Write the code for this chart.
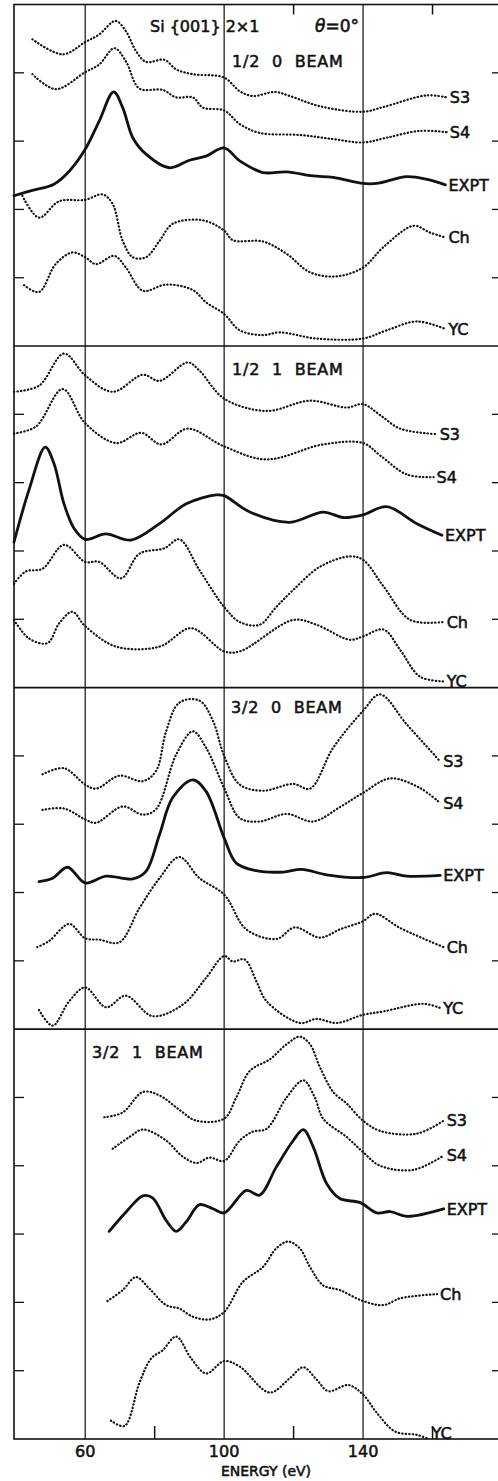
<!DOCTYPE html>
<html>
<head>
<meta charset="utf-8">
<script src="https://cdn.jsdelivr.net/npm/d3@7"></script>
<style>
  body { margin: 0; background: #fff; }
  text { font-family: 'DejaVu Sans', sans-serif; fill: #111; stroke: #111; stroke-width: 0.55px; }
</style>
</head>
<body>
<div id="chart"></div>
<script>
// panels, top to bottom
const beams = ['1/2  0  BEAM', '1/2  1  BEAM', '3/2  0  BEAM', '3/2  1  BEAM']
const models = ['S3', 'S4', 'EXPT', 'Ch', 'YC']
const panelUnits = [5, 5, 5, 6]
const gridEnergies = [60, 100, 140]
const xTickLabels = ['60', '100', '140']
const topTicks = [120, 160]
const bottomTicks = [80, 120, 160]

// [energy eV, intensity in tick divisions above panel floor]
const b1S3 = [[44.8,4.49],[53.5,4.27],[60,4.45],[64,4.56],[68.7,4.76],[71.7,4.61],[74.6,4.32],[77.5,4.16],[82.8,4.19],[86.2,4.05],[91,3.98],[100,3.93],[104.5,3.73],[108.3,3.66],[114.6,3.72],[118.9,3.66],[127.6,3.51],[140,3.43],[145.9,3.5],[158.4,3.67],[164.1,3.64]]
const b1S4 = [[44.8,3.98],[51.5,3.76],[60,4.01],[64,4.12],[68.4,4.36],[71.7,4.17],[75.6,3.77],[82.3,3.75],[86.2,3.64],[91,3.64],[93.9,3.49],[100,3.45],[104.5,3.25],[110.2,3.12],[121.8,3.09],[131.4,3.03],[140,2.98],[146.8,3.05],[156.4,3.15],[164.1,3.13]]
const b1EXPT = [[39.5,2.2],[44.8,2.28],[51,2.37],[55.4,2.56],[60,2.88],[64,3.29],[68.2,3.72],[70.8,3.49],[73.7,3.05],[77.5,2.81],[84.3,2.61],[90,2.72],[94.8,2.78],[100,2.9],[104.5,2.71],[111.2,2.54],[118,2.55],[125.6,2.49],[131.4,2.47],[140,2.38],[143.9,2.38],[152.6,2.48],[158.4,2.44],[163.7,2.36]]
const b1Ch = [[41.9,2.2],[46.7,1.88],[52.5,2.12],[60,2.14],[65,2.22],[67.9,2.08],[70.8,1.54],[73.7,1.3],[77.5,1.3],[81.4,1.54],[85.2,1.79],[93.9,1.84],[100,1.69],[102.5,1.55],[111.2,1.53],[118,1.35],[124.7,1.08],[132.4,1.02],[140,1.15],[145.9,1.45],[154.5,1.76],[159.3,1.66],[163.7,1.59]]
const b1YC = [[42.4,0.89],[46.7,0.79],[51.5,1.2],[56.3,1.37],[60,1.3],[63.1,1.2],[68.4,1.32],[71.7,1.15],[76.6,0.81],[83.3,0.9],[91,0.82],[94.8,0.64],[100,0.47],[104.5,0.23],[111.2,0.16],[116,0.2],[126.6,0.11],[140,0.11],[146.8,0.23],[155.5,0.36],[163.7,0.25]]

const b2S3 = [[39.5,4.33],[46.7,4.42],[53.9,4.89],[60,4.57],[67.9,4.33],[76.6,4.58],[81.4,4.49],[89.5,4.76],[92.9,4.64],[100,4.23],[112.2,4.05],[124.7,4.2],[135.3,4.1],[140,4.15],[144.9,3.99],[150.7,3.79],[161.2,3.71]]
const b2S4 = [[39.5,3.72],[45.8,3.82],[53.5,4.37],[60,3.87],[68.9,3.58],[76.1,3.73],[81.9,3.56],[89.5,3.79],[100,3.53],[112.2,3.34],[128.5,3.56],[140,3.58],[144.9,3.4],[152.6,3.12],[160.3,3.08]]
const b2EXPT = [[39.5,2.13],[43.8,2.89],[48.5,3.52],[51,3.28],[53.9,2.69],[56.8,2.33],[60,2.17],[65.9,2.25],[73.2,2.16],[81.4,2.4],[89.1,2.69],[97.7,2.82],[100,2.81],[107.4,2.57],[118.9,2.42],[128.5,2.57],[134.3,2.49],[140,2.53],[146.8,2.65],[155.5,2.4],[162.7,2.23]]
const b2Ch = [[39.5,1.52],[42.9,1.7],[47.7,1.74],[53.9,2.09],[60,1.84],[64,1.84],[70.3,1.6],[75.6,1.96],[82.8,2.04],[87.1,2.17],[92.9,1.72],[100,1.18],[104.5,0.96],[110.2,0.92],[115,1.18],[119.9,1.43],[127.6,1.77],[136.2,1.92],[140,1.87],[145.9,1.48],[153.6,0.99],[163.2,0.96]]
const b2YC = [[39.5,0.99],[43.8,0.72],[49.1,0.65],[52.5,0.94],[56.3,1.11],[60,0.9],[68.9,0.6],[81.4,0.6],[90.5,0.87],[100,0.53],[104.5,0.53],[119.9,0.99],[126.6,0.92],[136.2,0.7],[140,0.75],[145.9,0.85],[150.7,0.55],[156.4,0.16],[163.2,0.09]]

const b3S3 = [[47.7,3.73],[53.9,3.82],[60,3.58],[63.1,3.52],[69.8,3.71],[76.6,3.63],[80.4,3.78],[83.3,4.36],[87.1,4.78],[92.9,4.81],[96.8,4.51],[100,4.0],[104.5,3.58],[111.2,3.49],[119.9,3.59],[124.7,3.52],[131.4,4.12],[140,4.66],[144.9,4.9],[152.6,4.46],[162.2,3.92]]
const b3S4 = [[47.7,3.21],[53.9,3.23],[60,3.07],[63.1,3.02],[70.8,3.26],[76.6,3.14],[80.4,3.22],[86.2,4.02],[91,4.36],[94.8,4.12],[100,3.53],[104.5,3.09],[110.2,3.04],[118,3.15],[125.6,3.04],[133.3,3.25],[140,3.46],[147.8,3.67],[156.4,3.53],[162.2,3.31]]
const b3EXPT = [[46.7,2.16],[50.6,2.21],[54.9,2.37],[60,2.14],[66,2.24],[73.7,2.2],[77.5,2.31],[81.4,2.85],[85.2,3.39],[91,3.65],[94.8,3.48],[100,2.8],[103.5,2.43],[109.3,2.32],[117,2.3],[122.3,2.34],[129.5,2.26],[140,2.22],[146.8,2.29],[152.6,2.24],[162.2,2.25]]
const b3Ch = [[46.2,1.2],[49.6,1.29],[55.4,1.54],[60,1.33],[64,1.31],[69.8,1.27],[75.6,1.77],[81.4,2.21],[87.1,2.52],[92.9,2.21],[100,1.97],[106.4,1.46],[115.1,1.32],[120.3,1.49],[127.6,1.34],[133.3,1.46],[140,1.58],[143.4,1.69],[150.7,1.48],[163.2,1.2]]
const b3YC = [[46.7,0.28],[50.6,0.05],[55.4,0.41],[60,0.61],[66,0.32],[71.7,0.49],[79.4,0.19],[88.1,0.36],[94.8,0.75],[100,1.07],[102.5,0.99],[105.9,1.02],[109.3,0.7],[112.2,0.41],[121.8,0.09],[126.6,0.15],[132.4,0.09],[140,0.21],[145.9,0.26],[157.4,0.37],[162.2,0.31]]

const b4S3 = [[65.5,4.71],[70.8,4.78],[76.6,5.08],[81.4,5.03],[87.1,4.82],[92,4.66],[100,4.69],[103.5,5.0],[107.4,5.39],[113.2,5.56],[118,5.78],[121.8,5.89],[124.7,5.78],[127.6,5.44],[131.4,5.08],[135.3,4.91],[140,4.66],[144.9,4.51],[155.5,4.47],[163.2,4.66]]
const b4S4 = [[67.9,4.25],[72.7,4.42],[76.6,4.53],[83.3,4.37],[87.7,4.15],[92,4.04],[95.8,4.12],[100,4.07],[104.5,4.37],[108.3,4.5],[112.2,4.54],[118,5.0],[122.8,5.25],[126.1,5.0],[128.5,4.69],[135.3,4.42],[140,4.2],[144.9,4.0],[154.5,3.94],[163.2,4.15]]
const b4EXPT = [[66.9,3.04],[71.7,3.32],[76.6,3.56],[79.4,3.53],[83.3,3.2],[86.2,3.04],[89.1,3.18],[92.9,3.43],[96.8,3.37],[100,3.31],[106.4,3.64],[110.2,3.57],[115,3.98],[119.9,4.37],[122.8,4.53],[125.7,4.27],[129.5,3.74],[133.3,3.52],[139.2,3.46],[144,3.31],[147.8,3.33],[152.6,3.26],[163.2,3.37]]
const b4Ch = [[66.4,2.02],[70.8,2.18],[74.6,2.37],[78.5,2.2],[83.3,1.96],[87.1,1.91],[91,1.79],[95.8,1.75],[100,1.86],[105.4,2.3],[111.2,2.52],[115,2.79],[118.4,2.89],[121.8,2.79],[124.7,2.52],[128.5,2.25],[133.3,2.18],[140,2.02],[145.9,1.96],[150.7,2.06],[161.3,2.12]]
const b4YC = [[67.4,0.27],[71.3,0.19],[75.6,0.82],[79,1.18],[82.3,1.3],[86.2,1.5],[90.5,1.18],[94.8,0.96],[100,1.14],[104.5,1.06],[113.1,0.68],[118.9,0.89],[122.8,1.05],[126.6,0.87],[130,0.7],[135.8,0.79],[140,0.65],[144,0.38],[149.2,0.11],[155.5,0.06],[158.9,0.0]]

const curveSets = [
  [b1S3, b1S4, b1EXPT, b1Ch, b1YC],
  [b2S3, b2S4, b2EXPT, b2Ch, b2YC],
  [b3S3, b3S4, b3EXPT, b3Ch, b3YC],
  [b4S3, b4S4, b4EXPT, b4Ch, b4YC]
]

const width = 498
const height = 1481
const frame = { left: 14, right: 502, top: 4.5, bottom: 1439 }

const svg = d3
  .select('#chart')
  .append('svg')
  .attr('width', width)
  .attr('height', height)

const totalUnits = d3.sum(panelUnits)
const xPositionScale = d3
  .scaleLinear()
  .domain([39.5, 180])
  .range([frame.left, frame.right])
const yPositionScale = d3
  .scaleLinear()
  .domain([0, totalUnits])
  .range([frame.bottom, frame.top])

// base of each panel in units counted from the chart floor
const panelBase = panelUnits.map((u, i) => d3.sum(panelUnits.slice(i + 1)))

// vertical grid lines
svg
  .selectAll('.grid')
  .data(gridEnergies)
  .enter()
  .append('line')
  .attr('x1', d => xPositionScale(d))
  .attr('x2', d => xPositionScale(d))
  .attr('y1', frame.top)
  .attr('y2', frame.bottom)
  .attr('stroke', '#111')
  .attr('stroke-width', 1.2)

// frame and panel separators
svg
  .append('rect')
  .attr('x', frame.left)
  .attr('y', frame.top)
  .attr('width', frame.right - frame.left)
  .attr('height', frame.bottom - frame.top)
  .attr('fill', 'none')
  .attr('stroke', '#111')
  .attr('stroke-width', 1.6)

svg
  .selectAll('.sep')
  .data(panelBase.slice(0, 3))
  .enter()
  .append('line')
  .attr('x1', frame.left)
  .attr('x2', frame.right)
  .attr('y1', d => yPositionScale(d))
  .attr('y2', d => yPositionScale(d))
  .attr('stroke', '#111')
  .attr('stroke-width', 1.6)

// inner ticks left and right
const yTicks = []
panelUnits.forEach((u, i) => {
  d3.range(1, u).forEach(k => yTicks.push(panelBase[i] + k))
})
svg
  .selectAll('.ltick')
  .data(yTicks)
  .enter()
  .append('line')
  .attr('x1', frame.left)
  .attr('x2', frame.left + 10)
  .attr('y1', d => yPositionScale(d))
  .attr('y2', d => yPositionScale(d))
  .attr('stroke', '#111')
  .attr('stroke-width', 1.3)
svg
  .selectAll('.rtick')
  .data(yTicks)
  .enter()
  .append('line')
  .attr('x1', frame.right - 10)
  .attr('x2', frame.right)
  .attr('y1', d => yPositionScale(d))
  .attr('y2', d => yPositionScale(d))
  .attr('stroke', '#111')
  .attr('stroke-width', 1.3)

svg
  .selectAll('.ttick')
  .data(topTicks)
  .enter()
  .append('line')
  .attr('x1', d => xPositionScale(d))
  .attr('x2', d => xPositionScale(d))
  .attr('y1', frame.top)
  .attr('y2', frame.top + 10)
  .attr('stroke', '#111')
  .attr('stroke-width', 1.5)
svg
  .selectAll('.btick')
  .data(bottomTicks)
  .enter()
  .append('line')
  .attr('x1', d => xPositionScale(d))
  .attr('x2', d => xPositionScale(d))
  .attr('y1', frame.bottom)
  .attr('y2', frame.bottom - 13)
  .attr('stroke', '#111')
  .attr('stroke-width', 1.5)

// x axis labels
svg
  .selectAll('.xlabel')
  .data(gridEnergies)
  .enter()
  .append('text')
  .text((d, i) => xTickLabels[i])
  .attr('x', d => xPositionScale(d))
  .attr('y', 1457)
  .attr('text-anchor', 'middle')
  .style('font-size', '16px')

svg
  .append('text')
  .text('ENERGY (eV)')
  .attr('x', 266)
  .attr('y', 1476)
  .attr('text-anchor', 'middle')
  .style('font-size', '14px')

// title
svg
  .append('text')
  .text('Si {001} 2×1')
  .attr('x', 150)
  .attr('y', 32)
  .style('font-size', '16px')
const theta = svg
  .append('text')
  .attr('x', 315)
  .attr('y', 32)
  .style('font-size', '17px')
theta.append('tspan').text('θ').style('font-style', 'italic')
theta.append('tspan').text('=0°')

// beam labels
const beamPos = [[232, 67], [232, 375], [231, 713], [92, 1058]]
svg
  .selectAll('.beam')
  .data(beams)
  .enter()
  .append('text')
  .text(d => d)
  .attr('x', (d, i) => beamPos[i][0])
  .attr('y', (d, i) => beamPos[i][1])
  .style('font-size', '16px')
  .style('letter-spacing', '0.8px')
  .style('white-space', 'pre')
  .attr('xml:space', 'preserve')

const line = d3
  .line()
  .curve(d3.curveCatmullRom.alpha(0.5))

curveSets.forEach((set, p) => {
  set.forEach((pts, m) => {
    const name = models[m]
    const isExpt = name === 'EXPT'
    line
      .x(d => xPositionScale(d[0]))
      .y(d => yPositionScale(panelBase[p] + d[1]))
    svg
      .append('path')
      .datum(pts)
      .attr('d', line)
      .attr('fill', 'none')
      .attr('stroke', '#111')
      .attr('stroke-width', isExpt ? 2.8 : 2.2)
      .attr('stroke-linecap', 'round')
      .attr('stroke-linejoin', 'round')
      .attr('stroke-dasharray', isExpt ? null : '0.4 3.1')

    const last = pts[pts.length - 1]
    const ly = Math.min(yPositionScale(panelBase[p] + last[1]), frame.bottom - 6)
    svg
      .append('text')
      .text(name)
      .attr('x', xPositionScale(last[0]) + 3)
      .attr('y', ly)
      .attr('dy', '0.36em')
      .style('font-size', '16px')
  })
})
</script>
</body>
</html>
